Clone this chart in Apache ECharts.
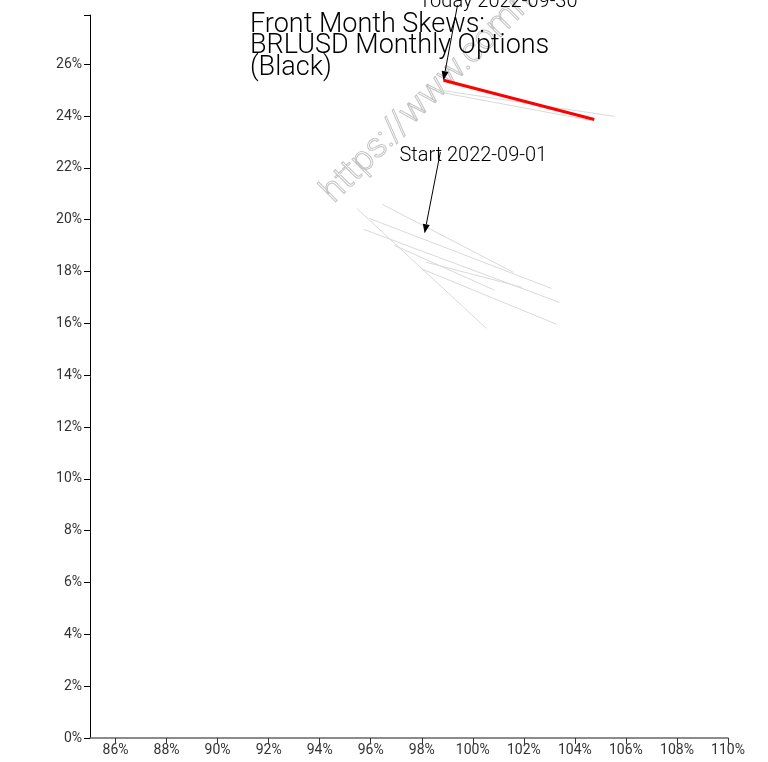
<!DOCTYPE html>
<html>
<head>
<meta charset="utf-8">
<script src="https://cdn.jsdelivr.net/npm/echarts@6/dist/echarts.min.js"></script>
<style>
html,body{margin:0;padding:0;background:#fff;}
#chart{width:768px;height:762px;}
</style>
</head>
<body>
<div id="chart"></div>
<script>
// ---- data ----
const titleLines = ['Front Month Skews:', 'BRLUSD Monthly Options', '(Black)'];
const xTicks = [86, 88, 90, 92, 94, 96, 98, 100, 102, 104, 106, 108, 110];
const yTicks = [0, 2, 4, 6, 8, 10, 12, 14, 16, 18, 20, 22, 24, 26];
const xRange = [85, 110];
const yRange = [0, 27.9];

// history skews (strike %, vol %)
const hist1Strike = [96.46, 101.59];  const hist1Vol = [20.59, 17.97];
const hist2Strike = [95.45, 100.53];  const hist2Vol = [20.44, 15.81];
const hist3Strike = [95.95, 103.08];  const hist3Vol = [20.05, 17.35];
const hist4Strike = [95.72, 103.39];  const hist4Vol = [19.63, 16.81];
const hist5Strike = [98.18, 101.94];  const hist5Vol = [18.36, 17.39];
const hist6Strike = [98.03, 103.27];  const hist6Vol = [18.09, 15.97];
const hist7Strike = [96.93, 100.85];  const hist7Vol = [19.01, 17.28];
const hist8Strike = [98.50, 105.54];  const hist8Vol = [25.03, 23.99];
const hist9Strike = [98.77, 104.64];  const hist9Vol = [24.91, 23.83];
// today's skew
const todayStrike = [98.85, 104.76];  const todayVol = [25.38, 23.87];

// annotations (data coords)
const todayLabel = 'Today 2022-09-30';
const todayLabelAt = [101.0, 28.4];
const todayArrow = [[99.40, 28.28], [98.85, 25.38]];
const startLabel = 'Start 2022-09-01';
const startLabelAt = [100.02, 22.45];
const startArrow = [[98.73, 22.61], [98.11, 19.48]];

const watermark = 'https://www.commodity.com';

// ---- chart ----
const histStrikes = [hist1Strike, hist2Strike, hist3Strike, hist4Strike, hist5Strike, hist6Strike, hist7Strike, hist8Strike, hist9Strike];
const histVols = [hist1Vol, hist2Vol, hist3Vol, hist4Vol, hist5Vol, hist6Vol, hist7Vol, hist8Vol, hist9Vol];
const zip = (a, b) => a.map((v, i) => [v, b[i]]);

const FONT = 'Roboto';
const series = histStrikes.map((s, i) => ({
  type: 'line', data: zip(s, histVols[i]), symbol: 'none', silent: true,
  lineStyle: { color: '#dadada', width: 1 }, z: 2, clip: false
}));
series.push({
  type: 'line', data: zip(todayStrike, todayVol), symbol: 'none', silent: true,
  lineStyle: { color: '#ff0000', width: 3 }, z: 3, clip: false
});

const chart = echarts.init(document.getElementById('chart'), null, { renderer: 'canvas' });
const axisLabelBase = { fontFamily: FONT, fontSize: 14, color: '#333', fontWeight: 'normal' };
chart.setOption({
  animation: false,
  backgroundColor: '#fff',
  title: {
    text: titleLines.join('\n'),
    left: 245, top: 9,
    textStyle: { fontFamily: FONT, fontSize: 27, fontWeight: 300, color: '#000', lineHeight: 21.6 }
  },
  grid: { left: 90, right: 40, top: 15, bottom: 24, containLabel: false },
  xAxis: {
    type: 'value', min: xRange[0], max: xRange[1],
    axisLine: { show: true, lineStyle: { color: '#666', width: 1.5 } },
    axisTick: { show: true, customValues: xTicks, length: 6, lineStyle: { color: '#333' } },
    axisLabel: Object.assign({ customValues: xTicks, margin: 5, formatter: v => v + '%' }, axisLabelBase),
    splitLine: { show: false }
  },
  yAxis: {
    type: 'value', min: yRange[0], max: yRange[1],
    axisLine: { show: true, lineStyle: { color: '#000', width: 1 } },
    axisTick: { show: true, customValues: yTicks.concat([yRange[1]]), length: 6, lineStyle: { color: '#000' } },
    axisLabel: Object.assign({ customValues: yTicks, margin: 8, formatter: v => v + '%' }, axisLabelBase),
    splitLine: { show: false }
  },
  series: series
});

function arrowGraphics(pts) {
  const a = chart.convertToPixel({ gridIndex: 0 }, pts[0]);
  const b = chart.convertToPixel({ gridIndex: 0 }, pts[1]);
  const dx = b[0] - a[0], dy = b[1] - a[1];
  const len = Math.sqrt(dx * dx + dy * dy);
  const ux = dx / len, uy = dy / len;
  const hl = 9, hw = 3.5;
  const bx = b[0] - ux * hl, by = b[1] - uy * hl;
  return [
    { type: 'line', shape: { x1: a[0], y1: a[1], x2: bx, y2: by }, style: { stroke: '#000', lineWidth: 1 }, z: 10, silent: true },
    { type: 'polygon', shape: { points: [[b[0], b[1]], [bx - uy * hw, by + ux * hw], [bx + uy * hw, by - ux * hw]] }, style: { fill: '#000' }, z: 10, silent: true }
  ];
}
function labelGraphic(text, at) {
  const p = chart.convertToPixel({ gridIndex: 0 }, at);
  return { type: 'text', x: p[0], y: p[1], z: 9, silent: true,
    style: { text: text, fontFamily: FONT, fontSize: 20, fontWeight: 300, fill: '#000', align: 'center', verticalAlign: 'middle' } };
}

const graphics = [].concat(
  [{ type: 'text', x: 340, y: 210, rotation: Math.PI / 4, z: 1, silent: true,
     style: { text: watermark, fontFamily: FONT, fontSize: 35, fontWeight: 300, fill: 'rgba(0,0,0,0)', stroke: '#c4c4c4', lineWidth: 1, align: 'left', verticalAlign: 'bottom' } }],
  [labelGraphic(todayLabel, todayLabelAt), labelGraphic(startLabel, startLabelAt)],
  arrowGraphics(todayArrow),
  arrowGraphics(startArrow)
);
chart.setOption({ graphic: graphics });
</script>
</body>
</html>
